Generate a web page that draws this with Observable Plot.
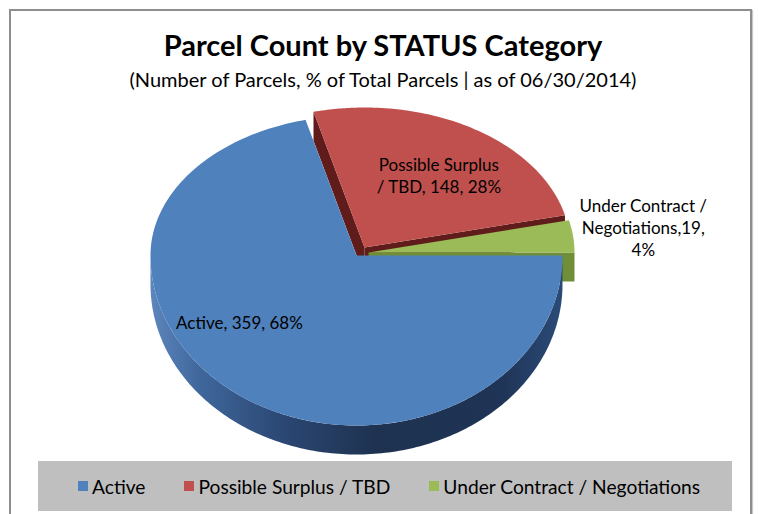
<!DOCTYPE html>
<html>
<head>
<meta charset="utf-8">
<script src="https://cdn.jsdelivr.net/npm/d3@7"></script>
<script src="https://cdn.jsdelivr.net/npm/@observablehq/plot@0.6"></script>
<style>
  body { margin: 0; background: #fff; }
  #frame { position: relative; width: 758px; height: 514px; overflow: hidden; background: #fff; font-family: Lato, "Open Sans", sans-serif; color: #000; }
  #border { position: absolute; left: 9px; top: 9px; width: 739px; height: 530px; border: 2px solid #8e8e8e; box-shadow: 1px 1px 1px #c8c8c8; }
  #title { position: absolute; left: 8px; width: 750px; top: 27px; text-align: center; font-weight: 700; font-size: 29px; line-height: 36px; }
  #subtitle { position: absolute; left: 8px; width: 750px; top: 66px; text-align: center; font-size: 20px; line-height: 26px; }
  #chart { position: absolute; left: 0; top: 95px; }
  #legend { position: absolute; left: 38px; top: 461px; width: 694px; height: 50px; background: #bfbfbf; display: flex; align-items: center; padding-left: 40px; box-sizing: border-box; gap: 39px; font-size: 19.2px; }
  .item { display: flex; align-items: center; white-space: nowrap; }
  .sw { width: 10px; height: 10px; margin-right: 4px; }
</style>
</head>
<body>
<div id="frame">
  <div id="border"></div>
  <div id="title">Parcel Count by STATUS Category</div>
  <div id="subtitle">(Number of Parcels, % of Total Parcels | as of 06/30/2014)</div>
  <div id="chart"></div>
  <div id="legend"></div>
</div>
<script>
// ---- data ----
const categories = ["Active", "Possible Surplus / TBD", "Under Contract / Negotiations"];
const counts = [359, 148, 19];
const labelText = ["Active, 359, 68%", "Possible Surplus\n/ TBD, 148, 28%", "Under Contract /\nNegotiations,19,\n4%"];

// ---- styles ----
const TOP_COLORS = ["#4F81BD", "#C0504D", "#9BBB59"];
const WALL_COLORS = ["url(#blueSide)", "#5f1c1a", "#708e38"];

// ---- geometry of the 3-D pie (px units) ----
const W = 758, H = 365;
const CX = 356, CY = 160;          // vertex position inside svg
const RX = 206, RY_BACK = 140, RY_FRONT = 170, DEPTH = 29, WARP = 16;
const LH = 22;                      // label line height

const rad = d => d * Math.PI / 180;
function rim(theta) {
  const t = rad(theta);
  const s = Math.sin(t);
  const psi = t + rad(WARP) * Math.sin(2 * t) * (s > 0 ? s * s : 0);
  const sp = Math.sin(psi);
  return {x: RX * Math.cos(psi), y: (sp > 0 ? RY_BACK : RY_FRONT) * sp};
}
function arcPts(a, b, drop = 0) {
  const n = Math.max(2, Math.ceil(Math.abs(b - a)));
  return d3.range(n + 1).map(i => {
    const p = rim(a + (b - a) * i / n);
    return {x: p.x, y: p.y - drop};
  });
}

const total = d3.sum(counts);
let cum = 0;
const slices = counts.map((v, i) => {
  const a0 = -cum / total * 360;   // clockwise from east
  cum += v;
  const a1 = -cum / total * 360;
  return {i, a0, a1, mid: (a0 + a1) / 2};
});

const V = {x: 0, y: 0};
const topFace = s => [V, ...arcPts(s.a0, s.a1)];
const radialWall = th => { const p = rim(th); return [V, p, {x: p.x, y: p.y - DEPTH}, {x: 0, y: -DEPTH}]; };
const sideWall = (a, b) => [...arcPts(a, b), ...arcPts(b, a, DEPTH)];

function labelRows(s) {
  const p = rim(s.mid);
  const ax = 0.6 * p.x, ay = 0.6 * p.y;
  const lines = labelText[s.i].split("\n");
  return lines.map((t, k) => ({x: ax, y: ay + ((lines.length - 1) / 2 - k) * LH, t}));
}

const [sb, sr, sg] = slices;
const poly = (pts, fill, o = {}) => Plot.line(pts, {x: "x", y: "y", fill, stroke: "none", curve: "linear", ...o});
const explodeR = {dx: 8, dy: -8};
const explodeG = {dx: 12, dy: -3};

const defsMark = () => {
  const g = document.createElementNS("http://www.w3.org/2000/svg", "defs");
  g.innerHTML = `<linearGradient id="blueSide" x1="0" x2="1" y1="0" y2="0">
      <stop offset="0" stop-color="#5d86bd"/>
      <stop offset="0.12" stop-color="#3f679c"/>
      <stop offset="0.33" stop-color="#2a4671"/>
      <stop offset="0.55" stop-color="#1e3250"/>
      <stop offset="0.85" stop-color="#1f3456"/>
      <stop offset="1" stop-color="#2b4b78"/>
    </linearGradient>`;
  return g;
};

const textOpts = {x: "x", y: "y", text: "t", fontFamily: "Lato, sans-serif", fontSize: 17, fill: "#000", textAnchor: "middle", lineAnchor: "middle"};

const chart = Plot.plot({
  width: W, height: H,
  margin: 0,
  x: {domain: [-CX, W - CX], range: [0, W], axis: null},
  y: {domain: [-(H - CY), CY], range: [H, 0], axis: null},
  style: {background: "transparent", overflow: "visible"},
  marks: [
    defsMark,
    poly(radialWall(sr.a0), WALL_COLORS[1], explodeR),
    poly(radialWall(sr.a1), WALL_COLORS[1], explodeR),
    poly(radialWall(sg.a1), WALL_COLORS[2], explodeG),
    poly(sideWall(0, -180), WALL_COLORS[0]),
    poly(topFace(sb), TOP_COLORS[0]),
    poly(topFace(sr), TOP_COLORS[1], explodeR),
    poly(topFace(sg), TOP_COLORS[2], explodeG),
    Plot.text(labelRows(sb), {...textOpts, dx: -50, dy: -18}),
    Plot.text(labelRows(sr), {...textOpts, dx: 48, dy: 2}),
    Plot.text(labelRows(sg), {...textOpts, dx: 164, dy: -17})
  ]
});
document.getElementById("chart").appendChild(chart);

// legend
const legend = document.getElementById("legend");
categories.forEach((c, i) => {
  const it = document.createElement("div");
  it.className = "item";
  it.innerHTML = `<span class="sw" style="background:${TOP_COLORS[i]}"></span><span>${c}</span>`;
  legend.appendChild(it);
});
</script>
</body>
</html>
